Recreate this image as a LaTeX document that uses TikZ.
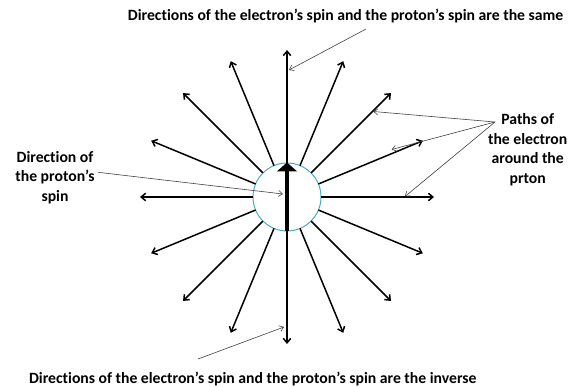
\documentclass[tikz,border=0pt]{standalone}
\usepackage{fontspec}
\setmainfont{Carlito}[Ligatures={TeX,NoCommon}]
\usetikzlibrary{arrows.meta}
\definecolor{PRing}{HTML}{4BACC6}
\definecolor{PNote}{HTML}{404040}
\tikzset{
  spoke/.style={line width=1.5pt,-{Straight Barb[length=4.5pt,width=7.5pt]}},
  pointer/.style={PNote,line width=0.6pt,-{Straight Barb[length=4pt,width=6pt]}},
  notetext/.style={font=\fontsize{15.7}{19.5}\selectfont\bfseries,align=center,inner sep=0pt}
}

\begin{document}
\begin{tikzpicture}[x=1pt,y=1pt]
\path[use as bounding box] (0,-387) rectangle (575,0);
\node[circle,draw=PRing,line width=1pt,minimum size=68pt,inner sep=0pt] (proton) at (287,-197) {};
\foreach \a in {0,22.5,...,337.5}
  \draw[spoke] ([shift={(\a:34)}]proton.center) -- ([shift={(\a:147)}]proton.center);
\draw[line width=4pt,-{Triangle[length=9pt,width=20pt]}] (proton.south) -- (proton.north);
\node[notetext] (same) at (345.6,-16.5) {Directions of the electron's spin and the proton's spin are the same};
\node[notetext] (inverse) at (252.8,-379) {Directions of the electron's spin and the proton's spin are the inverse};
\node[notetext] (spinnote) at (55,-177.5) {Direction of\\the proton's\\spin};
\node[notetext] (paths) at (527.7,-149.5) {Paths of\\the electron\\around the\\prton};
\coordinate (sameTail) at (366,-29);
\coordinate (sameHead) at (289,-70);
\coordinate (inverseTail) at (198,-359);
\coordinate (inverseHead) at (284,-327);
\coordinate (spinTail) at (98,-172.3);
\coordinate (spinHead) at (283,-194);
\coordinate (pathsTail) at (495,-122);
\coordinate (pathsHeadA) at (373.3,-111.5);
\coordinate (pathsHeadB) at (391.7,-149.5);
\coordinate (pathsHeadC) at (405,-196.5);
\draw[pointer] (sameTail) -- (sameHead);
\draw[pointer] (inverseTail) -- (inverseHead);
\draw[pointer] (spinTail) -- (spinHead);
\draw[pointer] (pathsTail) -- (pathsHeadA);
\draw[pointer] (pathsTail) -- (pathsHeadB);
\draw[pointer] (pathsTail) -- (pathsHeadC);
\end{tikzpicture}
\end{document}
